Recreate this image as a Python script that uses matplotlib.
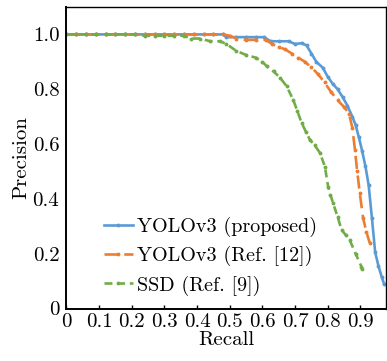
import matplotlib
matplotlib.use("Agg")
import matplotlib.pyplot as plt

plt.rcParams['font.family'] = ['cmr10', 'DejaVu Serif']
plt.rcParams['axes.formatter.use_mathtext'] = True
plt.rcParams['mathtext.fontset'] = 'cm'

blue_recall = [0, 0.03, 0.06, 0.09, 0.12, 0.15, 0.18, 0.21, 0.24, 0.27, 0.30, 0.33, 0.36, 0.39,
               0.42, 0.45, 0.48, 0.49, 0.52, 0.55, 0.58, 0.605, 0.625, 0.65, 0.68, 0.70, 0.72,
               0.735, 0.75, 0.765, 0.785, 0.80, 0.815, 0.83, 0.845, 0.86, 0.875, 0.885, 0.895,
               0.905, 0.915, 0.925, 0.935, 0.945, 0.955, 0.965, 0.972]
blue_prec = [1, 1, 1, 1, 1, 1, 1, 1, 1, 1, 1, 1, 1, 1,
             1, 1, 1, 0.99, 0.99, 0.99, 0.99, 0.99, 0.975, 0.975, 0.975, 0.965, 0.968,
             0.96, 0.93, 0.90, 0.878, 0.845, 0.82, 0.80, 0.772, 0.74, 0.70, 0.67, 0.625,
             0.575, 0.52, 0.45, 0.33, 0.205, 0.155, 0.115, 0.09]

orange_recall = [0, 0.03, 0.06, 0.09, 0.12, 0.15, 0.18, 0.21, 0.24, 0.27, 0.30, 0.33, 0.36, 0.39,
                 0.42, 0.45, 0.48, 0.50, 0.52, 0.55, 0.58, 0.61, 0.63, 0.65, 0.67, 0.69, 0.71,
                 0.73, 0.75, 0.77, 0.79, 0.81, 0.83, 0.85, 0.865, 0.875, 0.883, 0.89, 0.898,
                 0.908, 0.918, 0.928]
orange_prec = [1, 1, 1, 1, 1, 1, 1, 1, 1, 1, 1, 1, 1, 1,
               1, 1, 1, 0.995, 0.985, 0.98, 0.98, 0.98, 0.965, 0.955, 0.945, 0.93, 0.915,
               0.90, 0.88, 0.855, 0.825, 0.79, 0.76, 0.735, 0.71, 0.66, 0.58, 0.50, 0.42,
               0.33, 0.28, 0.24]

green_recall = [0, 0.03, 0.06, 0.09, 0.12, 0.15, 0.18, 0.21, 0.24, 0.27, 0.30, 0.33, 0.36,
                0.38, 0.41, 0.44, 0.47, 0.49, 0.52, 0.55, 0.58, 0.60, 0.613, 0.634, 0.654,
                0.674, 0.694, 0.707, 0.72, 0.733, 0.745, 0.76, 0.776, 0.791, 0.801, 0.808,
                0.816, 0.83, 0.842, 0.855, 0.867, 0.885, 0.903, 0.906]
green_prec = [1, 1, 1, 1, 1, 1, 1, 1, 0.995, 0.995, 0.995, 0.995, 0.995,
              0.985, 0.985, 0.975, 0.975, 0.965, 0.94, 0.925, 0.915, 0.90, 0.884, 0.865, 0.842,
              0.811, 0.762, 0.72, 0.677, 0.645, 0.616, 0.595, 0.568, 0.518, 0.445, 0.415,
              0.385, 0.335, 0.287, 0.268, 0.25, 0.20, 0.153, 0.145]

labels = ['YOLOv3 (proposed)', 'YOLOv3 (Ref. [12])', 'SSD (Ref. [9])']
xticks = [0, 0.1, 0.2, 0.3, 0.4, 0.5, 0.6, 0.7, 0.8, 0.9]
xticklabels = ['0', '0.1', '0.2', '0.3', '0.4', '0.5', '0.6', '0.7', '0.8', '0.9']
yticks = [0, 0.2, 0.4, 0.6, 0.8, 1.0]
yticklabels = ['0', '0.2', '0.4', '0.6', '0.8', '1.0']

fig = plt.figure(figsize=(3.87, 3.61), dpi=100)
ax = fig.add_axes([66.3/387, 1 - 308.5/361, 320/387, 301.5/361])

ax.plot(blue_recall, blue_prec, color='#5B9BD5', lw=1.9, ls='-', marker='o', ms=1.8,
        label=labels[0])
ax.plot(orange_recall, orange_prec, color='#ED7D31', lw=1.9, ls=(0, (5, 2.5)), marker='o',
        ms=1.8, label=labels[1])
ax.plot(green_recall, green_prec, color='#70AD47', lw=1.9, ls=(0, (3, 1.8)), marker='o',
        ms=1.8, label=labels[2])

ax.set_xlim(0, 0.979)
ax.set_ylim(0, 1.10)
ax.set_xticks(xticks)
ax.set_xticklabels(xticklabels)
ax.set_yticks(yticks)
ax.set_yticklabels(yticklabels)
ax.tick_params(axis='x', direction='in', length=3, width=1, labelsize=15, pad=3)
ax.tick_params(axis='y', length=0, labelsize=15, pad=5)
for s in ax.spines.values():
    s.set_linewidth(1.0)
ax.spines['left'].set_linewidth(1.4)
ax.spines['bottom'].set_linewidth(1.4)

ax.set_xlabel('Recall', fontsize=15, labelpad=0)
ax.set_ylabel('Precision', fontsize=15, labelpad=2)

ax.legend(loc='upper left', bbox_to_anchor=(0.075, 0.35), frameon=False, fontsize=14.5,
          handlelength=1.4, handletextpad=0.2, labelspacing=0.45, borderpad=0.2)

fig.savefig('out.png', dpi=100)
